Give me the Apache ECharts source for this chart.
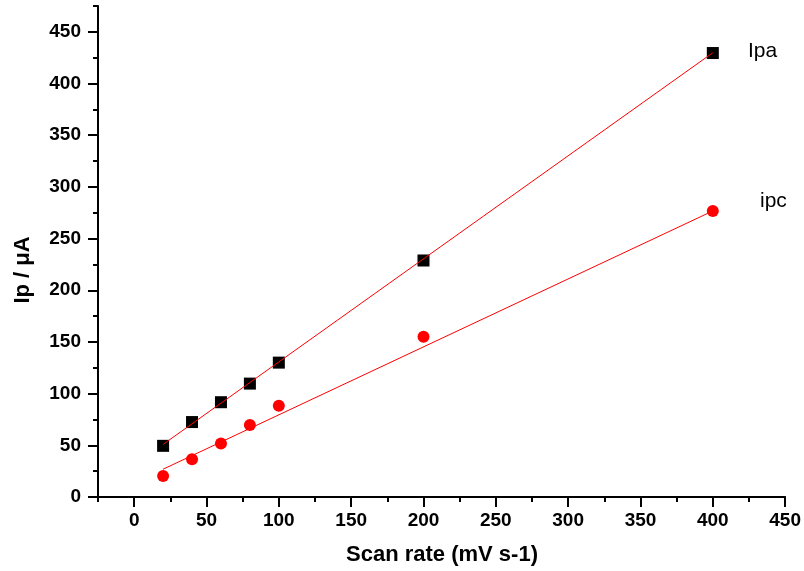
<!DOCTYPE html>
<html>
<head>
<meta charset="utf-8">
<script src="https://cdn.jsdelivr.net/npm/echarts@6/dist/echarts.min.js"></script>
<style>html,body{margin:0;padding:0;background:#fff}#c{width:804px;height:571px}</style>
</head>
<body>
<div id="c"></div>
<script>
// Data
const scanRates = [20, 40, 60, 80, 100, 200, 400];
const ipaValues = [49.5, 72.5, 91.7, 109.7, 130, 228.8, 429.5];
const ipcValues = [20.4, 36.6, 51.8, 69.6, 88.3, 155, 276.7];
const ipaFitX = [20, 400];
const ipaFitY = [50.9, 429.8];
const ipcFitX = [20, 400];
const ipcFitY = [26.9, 276.7];
const xMajorTicks = [0, 50, 100, 150, 200, 250, 300, 350, 400, 450];
const xMinorTicks = [-25, 25, 75, 125, 175, 225, 275, 325, 375, 425];
const yMajorTicks = [0, 50, 100, 150, 200, 250, 300, 350, 400, 450];
const yMinorTicks = [25, 75, 125, 175, 225, 275, 325, 375, 425, 475];
const seriesNames = ['Ipa', 'ipc'];
const xTitle = 'Scan rate (mV s-1)';
const yTitle = 'Ip / \u03bcA';

const zip = (xs, ys) => xs.map((x, i) => [x, ys[i]]);
const FONT = '"Liberation Sans", Arial, Helvetica, sans-serif';

const chart = echarts.init(document.getElementById('c'), null, {renderer: 'canvas'});
const labelStyle = {color: '#000', fontWeight: 'bold', fontSize: 19, fontFamily: FONT};

function axis(kind, opts) {
  const base = {type: 'value', splitLine: {show: false}, axisLine: {show: false, onZero: false},
                axisTick: {show: false}, axisLabel: {show: false}};
  if (kind === 'x') { base.min = -25; base.max = 450; base.interval = 25; base.position = 'bottom'; }
  else { base.min = 0; base.max = 475; base.interval = 25; base.position = 'left'; }
  return Object.assign(base, opts);
}
const tick = (len, vals) => ({show: true, inside: false, length: len, lineStyle: {color: '#000', width: 2}, customValues: vals});

chart.setOption({
  backgroundColor: '#fff',
  animation: false,
  grid: {left: 98, right: 17, top: 6, bottom: 74, containLabel: false},
  xAxis: [
    axis('x', {axisLine: {show: true, onZero: false, lineStyle: {color: '#000', width: 2}},
               axisLabel: Object.assign({show: true, margin: 14, customValues: xMajorTicks}, labelStyle)}),
    axis('x', {axisTick: tick(10, xMajorTicks)}),
    axis('x', {axisTick: tick(5, xMinorTicks)})
  ],
  yAxis: [
    axis('y', {axisLine: {show: true, onZero: false, lineStyle: {color: '#000', width: 2}},
               axisLabel: Object.assign({show: true, margin: 17, customValues: yMajorTicks}, labelStyle)}),
    axis('y', {axisTick: tick(10, yMajorTicks)}),
    axis('y', {axisTick: tick(5, yMinorTicks)})
  ],
  series: [
    {name: seriesNames[0], type: 'scatter', symbol: 'rect', symbolSize: 12,
     itemStyle: {color: '#000', opacity: 1}, data: zip(scanRates, ipaValues), z: 2},
    {name: seriesNames[1], type: 'scatter', symbol: 'circle', symbolSize: 12,
     itemStyle: {color: '#ff0000', opacity: 1}, data: zip(scanRates, ipcValues), z: 2},
    {type: 'line', data: zip(ipaFitX, ipaFitY), showSymbol: false, symbol: 'none',
     lineStyle: {color: '#ff0000', width: 1}, z: 3, silent: true},
    {type: 'line', data: zip(ipcFitX, ipcFitY), showSymbol: false, symbol: 'none',
     lineStyle: {color: '#ff0000', width: 1}, z: 3, silent: true}
  ],
  graphic: [
    {type: 'text', x: 748, y: 51, style: {text: seriesNames[0], fill: '#000', font: '21px ' + FONT, textAlign: 'left', textVerticalAlign: 'middle'}},
    {type: 'text', x: 760, y: 201, style: {text: seriesNames[1], fill: '#000', font: '21px ' + FONT, textAlign: 'left', textVerticalAlign: 'middle'}},
    {type: 'text', x: 442, y: 555, style: {text: xTitle, fill: '#000', font: 'bold 22px ' + FONT, textAlign: 'center', textVerticalAlign: 'middle'}},
    {type: 'text', x: 23, y: 270, rotation: Math.PI / 2, style: {text: yTitle, fill: '#000', font: 'bold 22px ' + FONT, textAlign: 'center', textVerticalAlign: 'middle'}}
  ]
});
</script>
</body>
</html>
